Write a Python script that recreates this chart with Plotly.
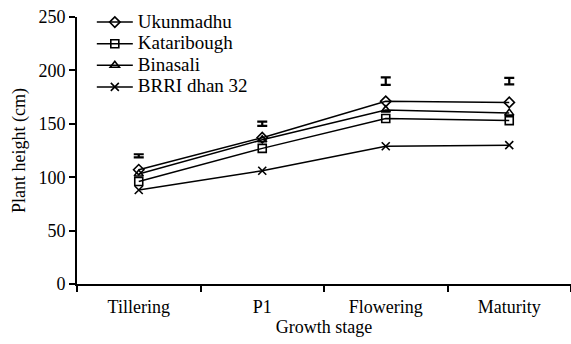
import plotly.graph_objects as go

stages = ["Tillering", "P1", "Flowering", "Maturity"]
ukunmadhu = [107, 137, 171, 170]
kataribough = [96, 127, 155, 153]
binasali = [103, 135, 163, 160]
brri_dhan32 = [88, 106, 129, 130]
lsd_center = [120, 150, 190, 190]
lsd_half = [1.5, 2, 3.5, 3]
series_names = ["Ukunmadhu", "Kataribough", "Binasali", "BRRI dhan 32"]

FONT = "Liberation Serif"

symbols = ["diamond-open", "square-open", "triangle-up-open", "x-thin-open"]
values = [ukunmadhu, kataribough, binasali, brri_dhan32]

fig = go.Figure()
for name, vals, sym in zip(series_names, values, symbols):
    fig.add_trace(go.Scatter(
        x=stages, y=vals,
        name='<span style="font-size:19px">' + name + '</span>',
        mode="lines+markers",
        line=dict(color="black", width=1.5),
        marker=dict(symbol=sym, size=8, color="black",
                    line=dict(color="black", width=1.6)),
    ))

fig.add_trace(go.Scatter(
    x=stages, y=lsd_center, mode="markers", showlegend=False,
    marker=dict(size=1, color="rgba(0,0,0,0)"),
    error_y=dict(type="data", array=lsd_half, visible=True,
                 color="black", thickness=2.2, width=5),
    hoverinfo="skip",
))

fig.update_layout(
    width=571, height=344,
    margin=dict(l=77, r=0, t=17, b=60),
    paper_bgcolor="white", plot_bgcolor="white",
    font=dict(family=FONT, size=18, color="black"),
    showlegend=True,
    legend=dict(x=0.03, y=1.04, xanchor="left", yanchor="top",
                bgcolor="rgba(0,0,0,0)", font=dict(family=FONT, size=14.3),
                tracegroupgap=0, itemwidth=36),
    xaxis=dict(
        type="category", range=[-0.5, 3.5],
        showline=True, linecolor="black", linewidth=2,
        ticks="outside", tickson="boundaries", ticklen=6,
        tickcolor="black", tickwidth=2,
        showgrid=False, zeroline=False,
        ticklabelstandoff=5,
        title=dict(text="Growth stage", standoff=2, font=dict(family=FONT, size=18)),
        tickfont=dict(family=FONT, size=18),
    ),
    yaxis=dict(
        range=[0, 250], tickvals=[0, 50, 100, 150, 200, 250],
        showline=True, linecolor="black", linewidth=2,
        ticks="outside", ticklen=6, tickcolor="black", tickwidth=2,
        showgrid=False, zeroline=False,
        title=dict(text="Plant height (cm)", standoff=8, font=dict(family=FONT, size=18)),
        tickfont=dict(family=FONT, size=18),
    ),
)

fig.write_html("out.html")
